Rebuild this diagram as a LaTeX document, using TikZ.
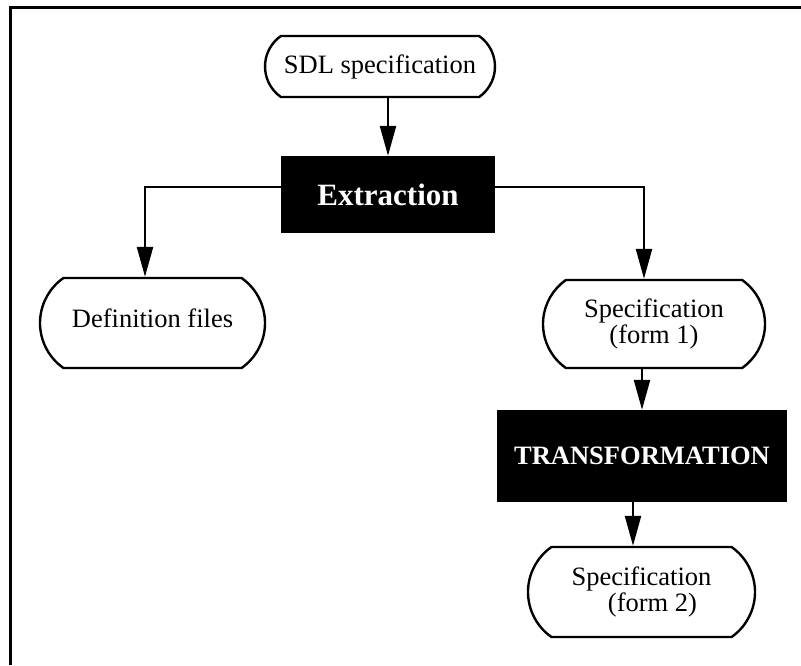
\documentclass[tikz,border=0pt]{standalone}
\usepackage{fontspec}
\setmainfont{Liberation Serif}
\usetikzlibrary{arrows.meta,shapes.misc,calc}
\begin{document}
\begin{tikzpicture}[x=1pt,y=-1pt,
  term/.style={rounded rectangle, rounded rectangle arc length=110, draw,
    line width=2.4pt, inner sep=0pt, align=center,
    font=\fontsize{26.5}{26}\selectfont},
  proc/.style={rectangle, fill=black, inner sep=0pt, text=white,
    font=\fontsize{26.5}{26}\selectfont\bfseries},
  flow/.style={line width=2.4pt, -{Triangle[length=30pt,width=16pt]}}]
\useasboundingbox (0,0) rectangle (801,665);

% page frame (top and left rules)
\draw[line width=3pt] (10,665) -- (10,7) -- (801,7);

% terminals and processes
\node[term, minimum width=230pt, minimum height=61pt] (sdl) at (380,66.5)
  {\raisebox{4pt}{SDL specification}};
\node[proc, minimum width=214pt, minimum height=77pt,
  font=\fontsize{31}{31}\selectfont\bfseries] (extract) at (388,194.5) {Extraction};
\node[term, minimum width=225pt, minimum height=90pt] (deffiles) at (152.5,323)
  {\raisebox{9pt}{Definition files}};
\node[term, minimum width=222pt, minimum height=88pt] (spec1) at (654,324)
  {Specification\\(form 1)};
\node[proc, minimum width=290pt, minimum height=92pt] (transf) at (642,456)
  {TRANSFORMATION};
\node[term, minimum width=227pt, minimum height=90pt] (spec2) at (641.5,592)
  {Specification\\\hspace*{22pt}(form 2)};

% branch points
\coordinate (xl) at ($(extract.west)+(0,-7.5)$);
\coordinate (xr) at ($(extract.east)+(0,-7.5)$);
\coordinate (dfin) at ($(deffiles.north)+(-7.5,0)$);
\coordinate (s1in) at ($(spec1.north)+(-10,0)$);
\coordinate (s2in) at ($(spec2.north)+(-8.5,0)$);

% connectors
\draw[flow] (extract.north |- sdl.south) -- (extract.north);
\draw[flow] (xl) -| (dfin);
\draw[flow] (xr) -| (s1in);
\draw[flow] (transf.north |- spec1.south) -- (transf.north);
\draw[flow] (s2in |- transf.south) -- (s2in);
\end{tikzpicture}
\end{document}
